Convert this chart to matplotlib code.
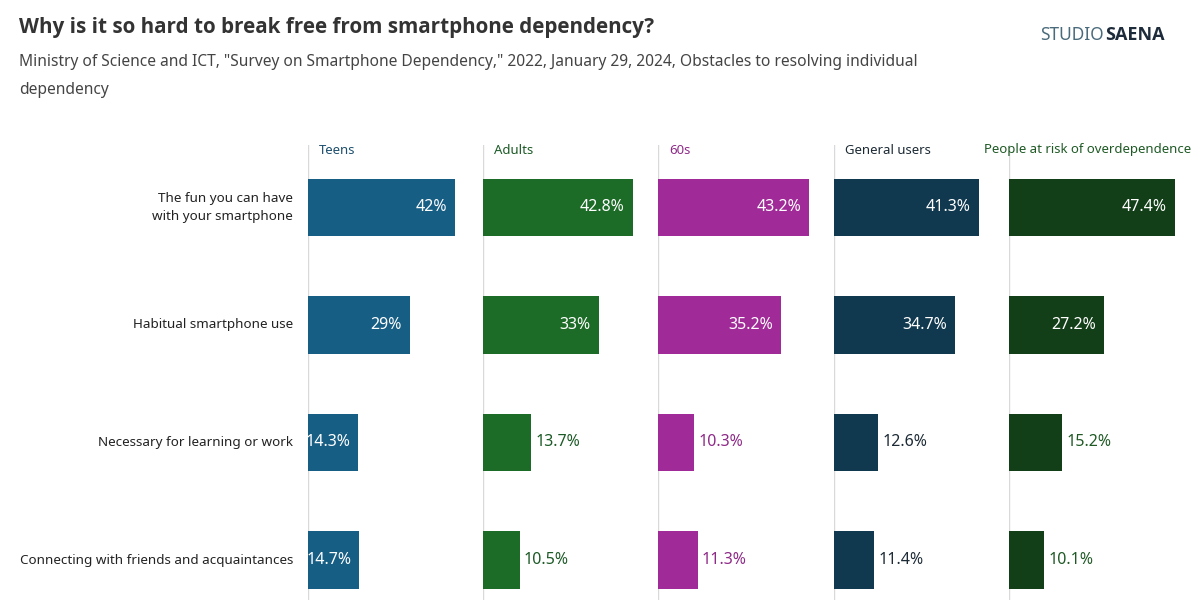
import matplotlib.pyplot as plt

plt.rcParams['font.family'] = ['Noto Sans', 'DejaVu Sans']

# Data
reasons = ['The fun you can have\nwith your smartphone', 'Habitual smartphone use',
           'Necessary for learning or work', 'Connecting with friends and acquaintances']
groups = ['Teens', 'Adults', '60s', 'General users', 'People at risk of overdependence']
teens = [42, 29, 14.3, 14.7]
adults = [42.8, 33, 13.7, 10.5]
sixties = [43.2, 35.2, 10.3, 11.3]
general = [41.3, 34.7, 12.6, 11.4]
at_risk = [47.4, 27.2, 15.2, 10.1]
values = [teens, adults, sixties, general, at_risk]

colors = ['#175e85', '#1c6b27', '#a02a98', '#10384f', '#133f18']
head_colors = ['#1d4f6e', '#1c5a26', '#8e2a88', '#1d2b36', '#1f5a25']

W, H = 1200, 600
fig = plt.figure(figsize=(12, 6), dpi=100)

def px(x, y):
    return x / W, 1 - y / H

# Title block
fig.text(*px(19, 27), 'Why is it so hard to break free from smartphone dependency?',
         fontsize=14.9, fontweight='bold', family='Open Sans', color='#333333',
         va='center', ha='left')
fig.text(*px(19, 62), 'Ministry of Science and ICT, "Survey on Smartphone Dependency," 2022, January 29, 2024, Obstacles to resolving individual',
         fontsize=11.2, color='#444444', va='center', ha='left')
fig.text(*px(19, 90), 'dependency', fontsize=11.2, color='#444444', va='center', ha='left')

# Logo
fig.text(*px(1104, 35), 'STUDIO', fontsize=12.5, color='#4a6b7c', fontweight='light',
         ha='right', va='center')
fig.text(*px(1105, 35), 'SAENA', fontsize=13, color='#1d2b3a', fontweight='bold',
         family='Open Sans', ha='left', va='center')

panel_left = [308, 483, 658, 834, 1009]
panel_w = 175
top, bottom = 145, 600

for i, (g, vals) in enumerate(zip(groups, values)):
    x0, y0 = px(panel_left[i], bottom)
    ax = fig.add_axes([x0, y0, panel_w / W, (bottom - top) / H])
    rows = range(len(vals))
    ax.barh(rows, vals, height=0.49, color=colors[i])
    ax.set_xlim(0, 50)
    ax.set_ylim(3.34, -0.53)
    ax.axvline(0, color='#d9d9d9', lw=1, zorder=0)
    for s in ax.spines.values():
        s.set_visible(False)
    ax.set_xticks([])
    ax.set_yticks([])
    ax.patch.set_alpha(0)
    for r, v in zip(rows, vals):
        lab = f'{v:g}%'
        if i == 0 or v > 20:
            ax.text(v - 2.3, r, lab, ha='right', va='center', color='white', fontsize=11.5)
        else:
            ax.text(v + 1.2, r, lab, ha='left', va='center', color=head_colors[i],
                    fontsize=11.5)
    if i == 0:
        for r, name in zip(rows, reasons):
            ax.text(-4.3, r, name, ha='right', va='center', color='#222222', fontsize=9.7,
                    linespacing=1.5)

# column headers
for i, g in enumerate(groups):
    if i == 4:
        fig.text(*px(1191, 150), g, ha='right', va='center', fontsize=9.5, color=head_colors[i])
    else:
        fig.text(*px(panel_left[i] + 11, 150), g, ha='left', va='center', fontsize=9.5,
                 color=head_colors[i])

fig.savefig('out.png', dpi=100, facecolor='white')
